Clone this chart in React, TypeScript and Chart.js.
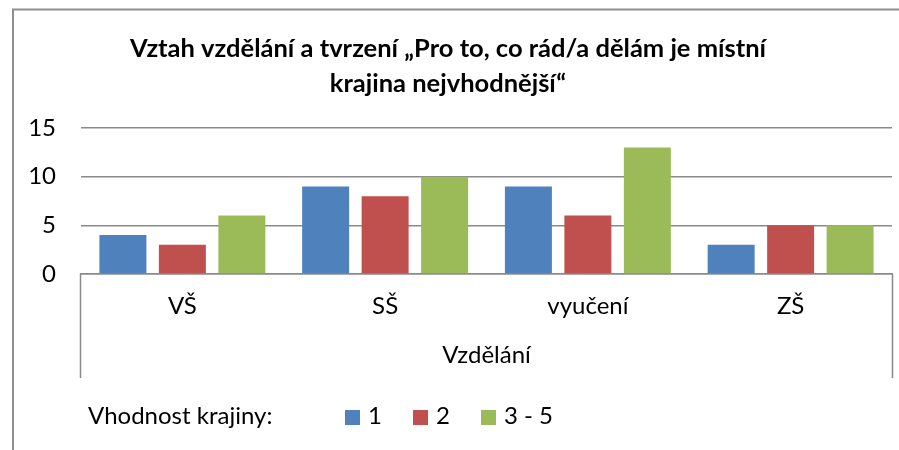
import React, { useEffect, useRef } from "react";
import { Chart, registerables } from "chart.js";

Chart.register(...registerables);

const titleLines = ["Vztah vzdělání a tvrzení „Pro to, co rád/a dělám je místní", "krajina nejvhodnější“"];
const categories = ["VŠ", "SŠ", "vyučení", "ZŠ"];
const seriesNames = ["1", "2", "3 - 5"];
const series1 = [4, 9, 9, 3];
const series2 = [3, 8, 6, 5];
const series3 = [6, 10, 13, 5];
const seriesColors = ["#4F81BD", "#C0504D", "#9BBB59"];
const axisTitle = "Vzdělání";
const legendTitle = "Vhodnost krajiny:";
const yMin = 0;
const yMax = 15;
const yStep = 5;

const FONT = "Lato, 'Open Sans', sans-serif";
const FS = 24;

const decorPlugin = {
  id: "decor",
  beforeDraw(chart: any) {
    const ctx = chart.ctx;
    ctx.save();
    ctx.fillStyle = "#ffffff";
    ctx.fillRect(0, 0, chart.width, chart.height);
    ctx.restore();
  },
  afterDraw(chart: any) {
    const ctx = chart.ctx;
    const area = chart.chartArea;
    ctx.save();
    // outer chart border
    ctx.strokeStyle = "#8e8e8e";
    ctx.lineWidth = 2;
    ctx.strokeRect(13, 9.5, chart.width + 20, chart.height + 20);
    // category box side lines
    ctx.strokeStyle = "#8a8a8a";
    ctx.lineWidth = 1.5;
    ctx.beginPath();
    ctx.moveTo(Math.round(area.left) - 0.5, area.bottom);
    ctx.lineTo(Math.round(area.left) - 0.5, 378);
    ctx.moveTo(Math.round(area.right) + 0.5, area.bottom);
    ctx.lineTo(Math.round(area.right) + 0.5, 378);
    ctx.stroke();
    // title
    ctx.fillStyle = "#000000";
    ctx.font = `bold 25.5px ${FONT}`;
    ctx.textAlign = "center";
    ctx.textBaseline = "alphabetic";
    titleLines.forEach((t, i) => ctx.fillText(t, 448, 56.5 + i * 35));
    // legend
    ctx.font = `${FS}px ${FONT}`;
    ctx.textAlign = "left";
    ctx.fillText(legendTitle, 88, 424);
    const boxX = [345, 413, 481];
    seriesNames.forEach((name, i) => {
      ctx.fillStyle = seriesColors[i];
      ctx.fillRect(boxX[i], 410, 15, 15);
      ctx.fillStyle = "#000000";
      ctx.fillText(name, boxX[i] + 23, 424);
    });
    ctx.restore();
  },
};

export default function App() {
  const ref = useRef<HTMLCanvasElement | null>(null);
  useEffect(() => {
    if (!ref.current) return;
    const chart = new Chart(ref.current, {
      type: "bar",
      data: {
        labels: categories,
        datasets: [series1, series2, series3].map((d, i) => ({
          label: seriesNames[i],
          data: d,
          backgroundColor: seriesColors[i],
          borderWidth: 0,
          categoryPercentage: 0.88,
          barPercentage: 0.79,
        })),
      },
      options: {
        animation: false,
        responsive: false,
        maintainAspectRatio: false,
        layout: { padding: { top: 128, left: 0, right: 7, bottom: 74 } },
        plugins: {
          legend: { display: false },
          title: { display: false },
          tooltip: { enabled: false },
        },
        scales: {
          x: {
            afterFit: (s: any) => {
              s.height = 102;
            },
            grid: { display: false, drawTicks: false },
            border: { display: true, color: "#8a8a8a", width: 1.5 },
            ticks: { color: "#000", font: { family: FONT, size: FS }, padding: 18 },
            title: {
              display: true,
              text: axisTitle,
              color: "#000",
              font: { family: FONT, size: FS },
              padding: { top: 0, bottom: 6 },
            },
          },
          y: {
            min: yMin,
            max: yMax,
            afterFit: (s: any) => {
              s.width = 81;
            },
            ticks: { stepSize: yStep, color: "#000", font: { family: FONT, size: FS }, padding: 25 },
            grid: { color: "#8a8a8a", lineWidth: 1.5, drawTicks: false },
            border: { display: false },
          },
        },
      },
      plugins: [decorPlugin],
    });
    return () => chart.destroy();
  }, []);
  return (
    <div style={{ position: "absolute", left: 0, top: 0, width: 899, height: 450 }}>
      <canvas ref={ref} width={899} height={450} style={{ width: 899, height: 450, display: "block" }} />
    </div>
  );
}
